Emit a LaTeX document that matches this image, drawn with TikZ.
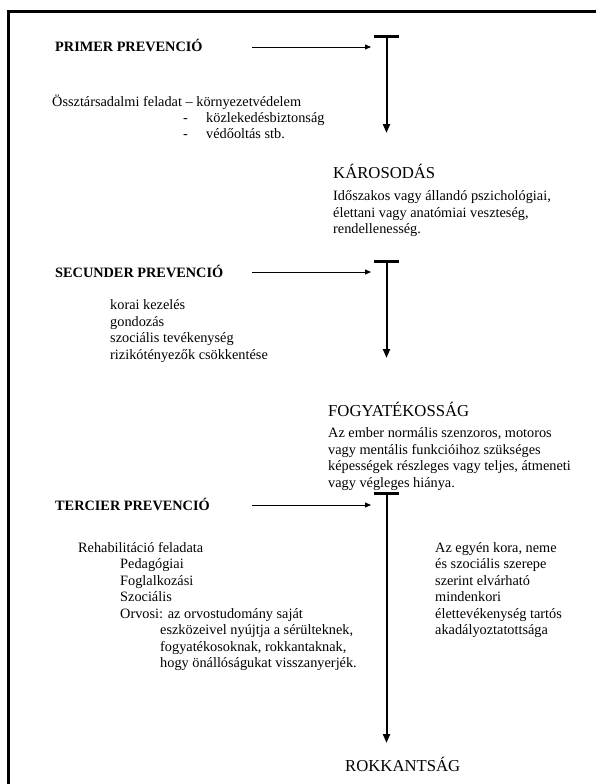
\documentclass[tikz,border=0pt]{standalone}
\usepackage{fontspec}
\setmainfont{Liberation Serif}
\usetikzlibrary{arrows.meta}
\begin{document}
\begin{tikzpicture}[x=1pt,y=-1pt,
  body/.style={font=\fontsize{14.3}{16.5}\selectfont,inner sep=0pt,anchor=base west},
  prevhead/.style={font=\bfseries\fontsize{14.3}{16.5}\selectfont,inner sep=0pt,anchor=base west},
  stagehead/.style={font=\fontsize{16.7}{19}\selectfont,inner sep=0pt,anchor=base west},
  harrow/.style={line width=0.9pt,-{Triangle[length=6pt,width=5pt]}},
  varrow/.style={line width=2pt,-{Triangle[length=9pt,width=7pt]}},
  tbar/.style={line width=3pt},
  frame/.style={line width=3pt}]
\useasboundingbox (0,0) rectangle (596,784);
\draw[frame] (8,784) -- (8,11.5) -- (596,11.5);

% PRIMER
\node[prevhead] (ph1) at (55,52) {PRIMER PREVENCIÓ};
\coordinate (a1s) at (252,47);
\coordinate (a1e) at (371,47);
\draw[harrow] (a1s) -- (a1e);
\coordinate (t1l) at (374,37);
\coordinate (t1r) at (399,37);
\coordinate (t1) at (386.5,37);
\coordinate (t1e) at (386.5,133);
\draw[tbar] (t1l) -- (t1r);
\draw[varrow] (t1) -- (t1e);
\node[body] (p1) at (52,106) {Össztársadalmi feladat – környezetvédelem};
\node[body] (p2d) at (183,122) {-};
\node[body] (p2) at (206,122) {közlekedésbiztonság};
\node[body] (p3d) at (183,138.5) {-};
\node[body] (p3) at (206,138.5) {védőoltás stb.};

% KAROSODAS
\node[stagehead] (k0) at (333,178) {KÁROSODÁS};
\node[body] (k1) at (333,200.5) {Időszakos vagy állandó pszichológiai,};
\node[body] (k2) at (333,217) {élettani vagy anatómiai veszteség,};
\node[body] (k3) at (333,233.5) {rendellenesség.};

% SECUNDER
\node[prevhead] (ph2) at (55,277) {SECUNDER PREVENCIÓ};
\coordinate (a2s) at (252,272);
\coordinate (a2e) at (371,272);
\draw[harrow] (a2s) -- (a2e);
\coordinate (t2l) at (374,261);
\coordinate (t2r) at (399,261);
\coordinate (t2) at (386.5,261);
\coordinate (t2e) at (386.5,358);
\draw[tbar] (t2l) -- (t2r);
\draw[varrow] (t2) -- (t2e);
\node[body] (s1) at (110,309.5) {korai kezelés};
\node[body] (s2) at (110,326) {gondozás};
\node[body] (s3) at (110,342.5) {szociális tevékenység};
\node[body] (s4) at (110,359) {rizikótényezők csökkentése};

% FOGYATEKOSSAG
\node[stagehead] (f0) at (328,416) {FOGYATÉKOSSÁG};
\node[body] (f1) at (328,437.5) {Az ember normális szenzoros, motoros};
\node[body] (f2) at (328,454) {vagy mentális funkcióihoz szükséges};
\node[body] (f3) at (328,470.5) {képességek részleges vagy teljes, átmeneti};
\node[body] (f4) at (328,487) {vagy végleges hiánya.};

% TERCIER
\node[prevhead] (ph3) at (55,510) {TERCIER PREVENCIÓ};
\coordinate (a3s) at (252,505);
\coordinate (a3e) at (371,505);
\draw[harrow] (a3s) -- (a3e);
\coordinate (t3l) at (374,493);
\coordinate (t3r) at (399,493);
\coordinate (t3) at (386.5,493);
\coordinate (t3e) at (386.5,743);
\draw[tbar] (t3l) -- (t3r);
\draw[varrow] (t3) -- (t3e);
\node[body] (r1) at (78,552) {Rehabilitáció feladata};
\node[body] (r2) at (120,568.5) {Pedagógiai};
\node[body] (r3) at (120,585) {Foglalkozási};
\node[body] (r4) at (120,601.5) {Szociális};
\node[body] (r5) at (120,618) {Orvosi: az orvostudomány saját};
\node[body] (r6) at (160,634.5) {eszközeivel nyújtja a sérülteknek,};
\node[body] (r7) at (160,651) {fogyatékosoknak, rokkantaknak,};
\node[body] (r8) at (160,667.5) {hogy önállóságukat visszanyerjék.};

\node[body] (q1) at (435,552) {Az egyén kora, neme};
\node[body] (q2) at (435,568.5) {és szociális szerepe};
\node[body] (q3) at (435,585) {szerint elvárható};
\node[body] (q4) at (435,601.5) {mindenkori};
\node[body] (q5) at (435,618) {élettevékenység tartós};
\node[body] (q6) at (435,634.5) {akadályoztatottsága};

% ROKKANTSAG
\node[stagehead] (rk) at (345,771) {ROKKANTSÁG};
\end{tikzpicture}
\end{document}
